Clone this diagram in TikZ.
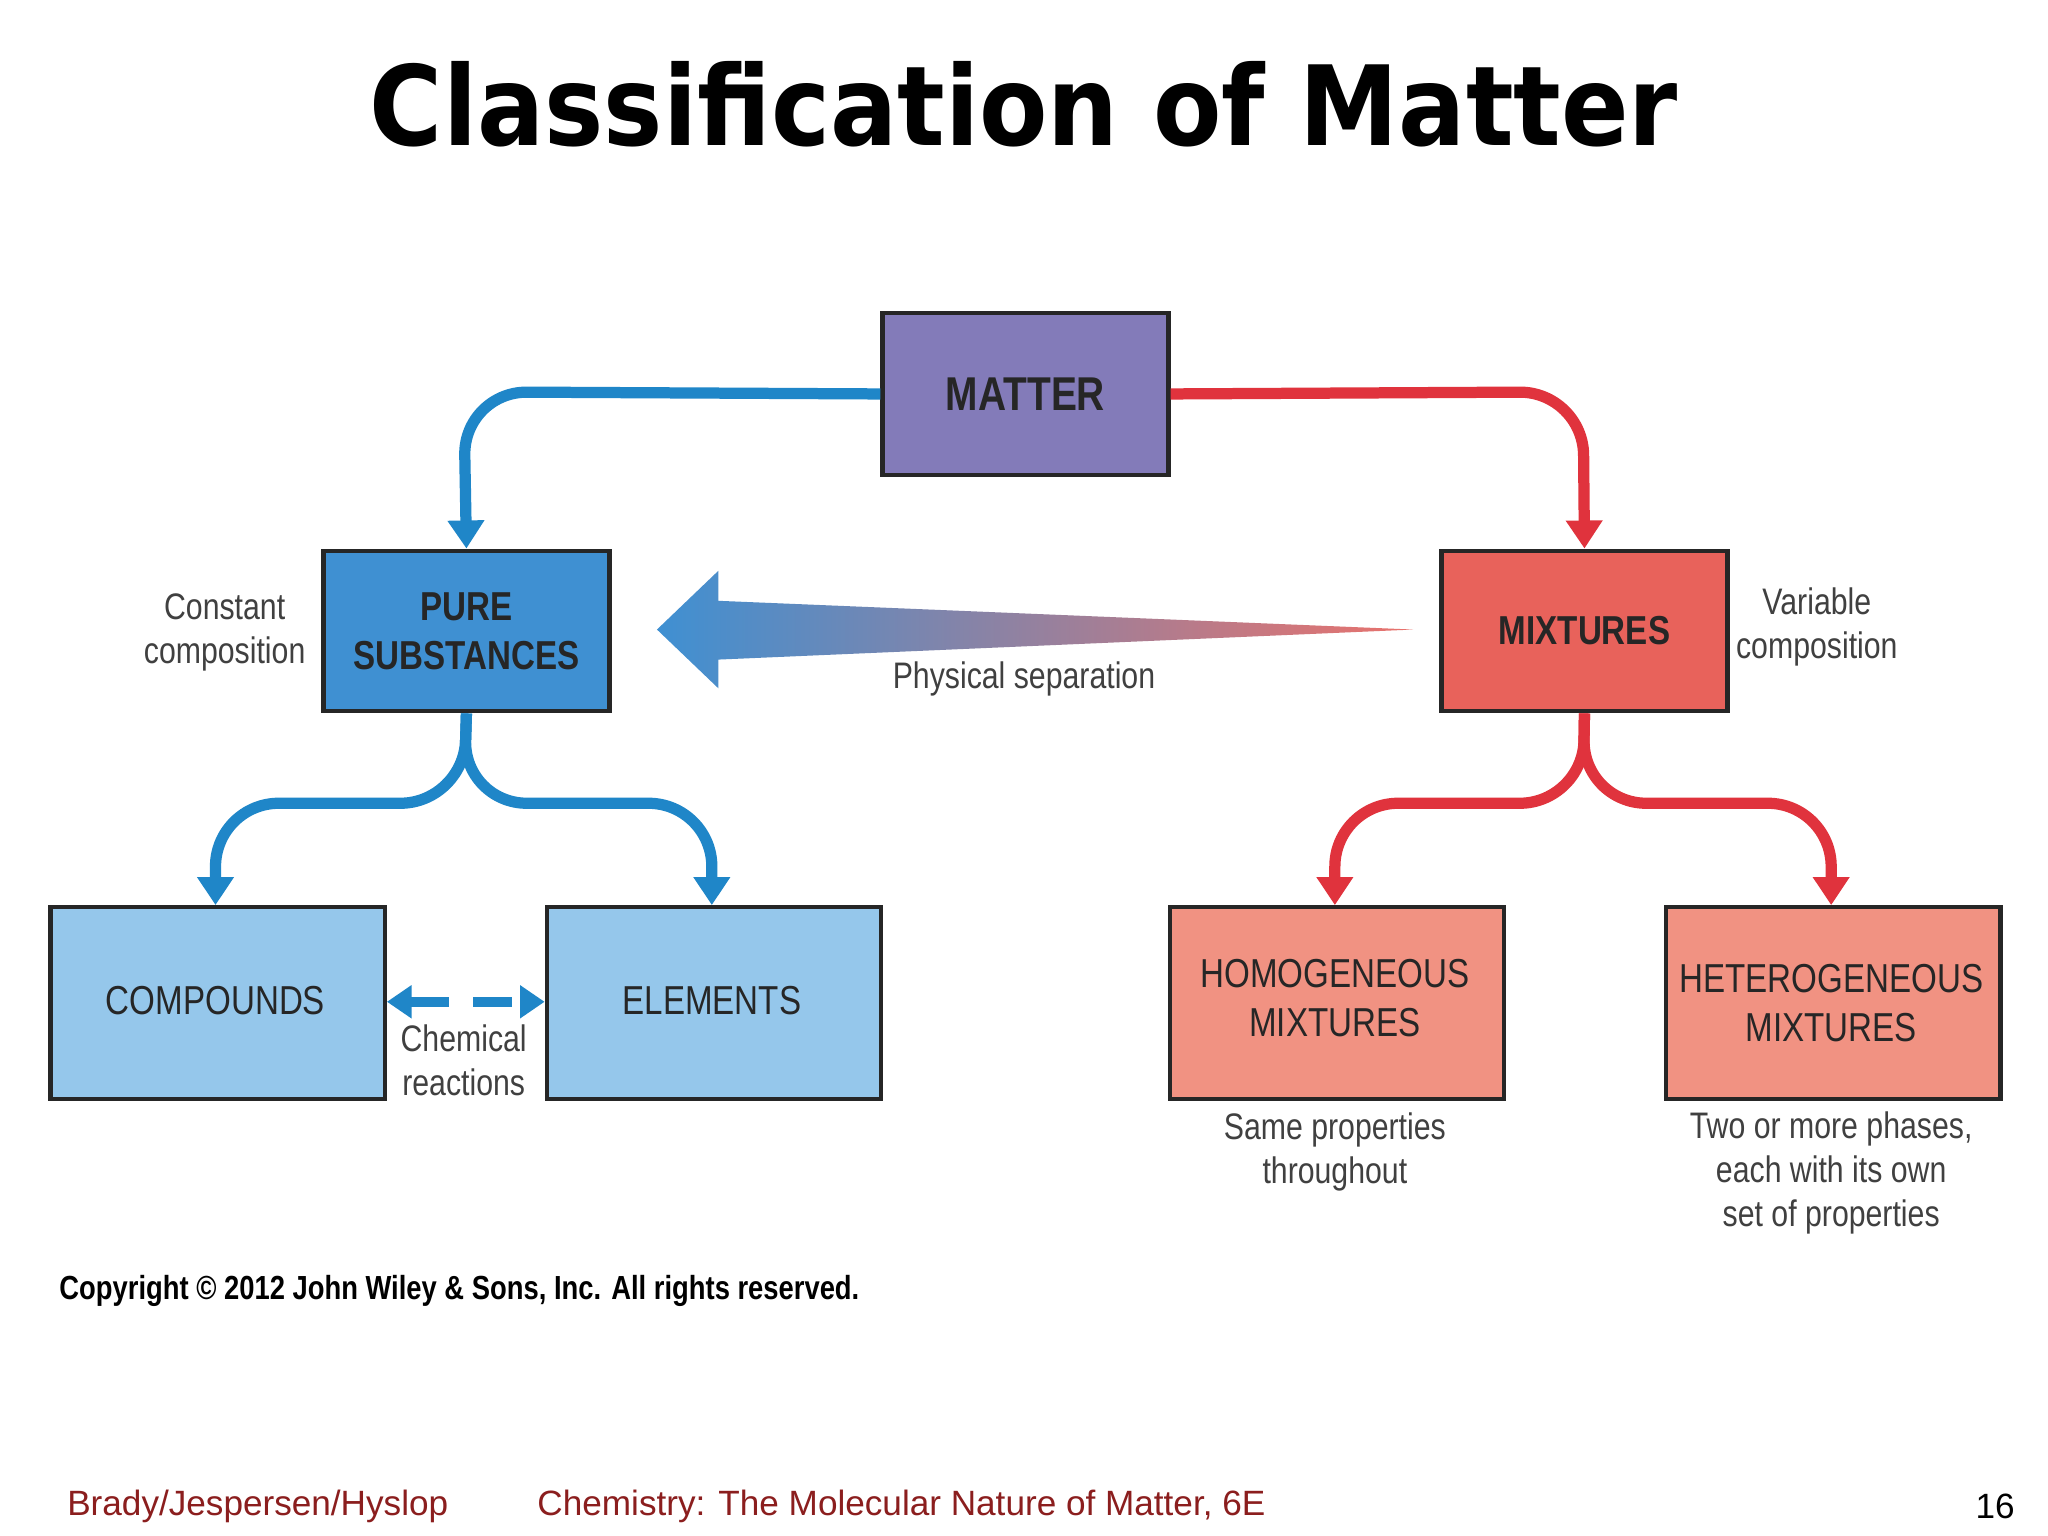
\documentclass[tikz,border=0pt]{standalone}
\usepackage{fontspec}
\setmainfont{Liberation Sans}
\newfontfamily\cond{Liberation Sans}[FakeStretch=0.82]
\newfontfamily\titlef{DejaVu Sans}[FakeStretch=0.9]
\usetikzlibrary{arrows.meta}
\definecolor{bl}{HTML}{1F86C8}
\definecolor{rd}{HTML}{E0333D}
\definecolor{mat}{HTML}{837BB9}
\definecolor{pure}{HTML}{3F90D2}
\definecolor{mix}{HTML}{E8625B}
\definecolor{lb}{HTML}{95C7EB}
\definecolor{sal}{HTML}{F19282}
\definecolor{foot}{HTML}{8B1E1E}
\begin{document}
\begin{tikzpicture}[x=0.013061cm,y=-0.013061cm,
 box/.style={draw=black!85,line width=1.2pt,inner sep=0pt,anchor=north west,align=center},
 blab/.style={font=\cond\fontsize{11.5}{14}\selectfont,text=black!85,align=center},
 side/.style={font=\cond\fontsize{10.5}{12.5}\selectfont,text=black!75,align=center},
 conn/.style={line width=3.2pt,rounded corners=18,-{Triangle[length=8pt,width=10pt]}}]
\useasboundingbox (0,0) rectangle (1568,1176);
\fill[white] (0,0) rectangle (1568,1176);
\node[font=\titlef\bfseries\fontsize{31.5}{36}\selectfont] (title) at (784,80) {Classification of Matter};
\node[box,fill=mat,minimum width=219*0.013061cm,minimum height=124*0.013061cm] (matter) at (674,238) {};
\node[blab,font=\cond\bfseries\fontsize{13.5}{16}\selectfont] at (matter.center) {MATTER};
\node[box,fill=pure,minimum width=219*0.013061cm,minimum height=123*0.013061cm] (pure) at (246,420) {};
\node[blab,font=\cond\bfseries\fontsize{11.5}{14}\selectfont] at (pure.center) {PURE\\SUBSTANCES};
\node[box,fill=mix,minimum width=219*0.013061cm,minimum height=123*0.013061cm] (mix) at (1102,420) {};
\node[blab,font=\cond\bfseries\fontsize{11.5}{14}\selectfont] at (mix.center) {MIXTURES};
\node[box,fill=lb,minimum width=256*0.013061cm,minimum height=147*0.013061cm] (comp) at (37,693) {};
\node[blab] at (165,766) {COMPOUNDS};
\node[box,fill=lb,minimum width=256*0.013061cm,minimum height=147*0.013061cm] (elem) at (417,693) {};
\node[blab] at (545,766) {ELEMENTS};
\node[box,fill=sal,minimum width=256*0.013061cm,minimum height=147*0.013061cm] (homo) at (894,693) {};
\node[blab] at (1022,764) {HOMOGENEOUS\\MIXTURES};
\node[box,fill=sal,minimum width=256*0.013061cm,minimum height=147*0.013061cm] (hete) at (1274,693) {};
\node[blab] at (1402,768) {HETEROGENEOUS\\MIXTURES};
% connectors
\draw[conn,bl] (matter.west) -- (355,300) -- (pure.north);
\draw[conn,rd] (matter.east) -- (1212,300) -- (mix.north);
\coordinate (pj) at (355,615);
\coordinate (mj) at (1212,615);
\draw[conn,bl] (pure.south) -- (pj) -- (165,615) -- (comp.north-|165,0);
\draw[conn,bl] (pure.south) -- (pj) -- (545,615) -- (elem.north-|545,0);
\draw[conn,rd] (mix.south) -- (mj) -- (1022,615) -- (homo.north-|1022,0);
\draw[conn,rd] (mix.south) -- (mj) -- (1402,615) -- (hete.north-|1402,0);
\draw[bl,line width=3pt,dash pattern=on 11pt off 7pt,{Triangle[length=7pt,width=9pt]}-{Triangle[length=7pt,width=9pt]}] (comp.east|-0,767) -- (elem.west|-0,767);
% big arrow
\shade[left color=pure,right color=mix!90!white] (503,482) -- (550,437) -- (550,460) -- (1082,482) -- (550,505) -- (550,527) -- cycle;
% side texts
\node[side] at (172,484) {Constant\\composition};
\node[side] at (1391,480) {Variable\\composition};
\node[side] at (784,520) {Physical separation};
\node[side] at (355,812) {Chemical\\reactions};
\node[side] at (1022,882) {Same properties\\throughout};
\node[side] at (1402,898) {Two or more phases,\\each with its own\\set of properties};
\node[anchor=west,font=\cond\bfseries\fontsize{9.5}{12}\selectfont] at (36,988) {Copyright \textcopyright\ 2012 John Wiley \& Sons, Inc. All rights reserved.};
\node[anchor=west,text=foot,font=\fontsize{10}{12}\selectfont] at (42,1153) {Brady/Jespersen/Hyslop};
\node[anchor=west,text=foot,font=\fontsize{10}{12}\selectfont] at (402,1153) {Chemistry: The Molecular Nature of Matter, 6E};
\node[anchor=east,font=\fontsize{10}{12}\selectfont] at (1552,1153) {16};
\end{tikzpicture}
\end{document}
